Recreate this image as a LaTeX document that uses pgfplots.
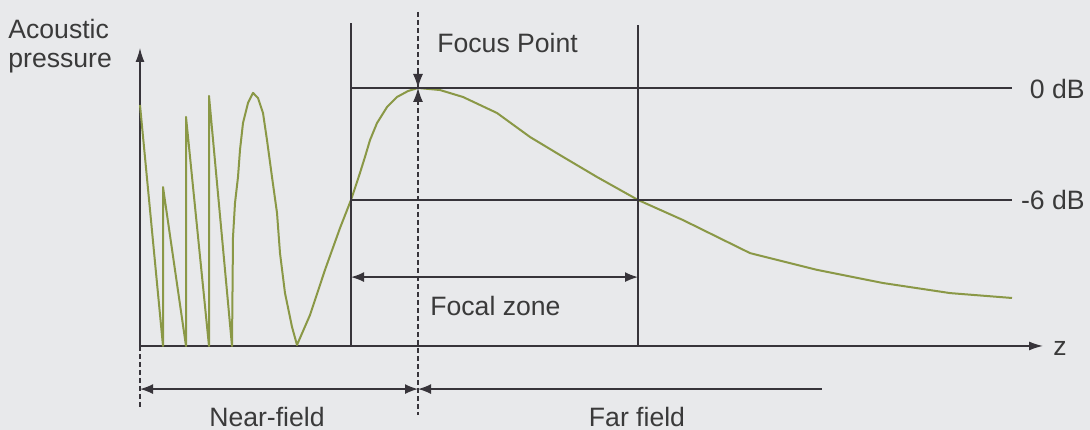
\documentclass[border=0pt]{standalone}
\usepackage{pgfplots}
\pgfplotsset{compat=1.18}
\usepackage{fontspec}
\setmainfont{Liberation Sans}
\usetikzlibrary{arrows.meta}

\definecolor{bgc}{HTML}{E8E9EB}
\definecolor{ink}{HTML}{37343A}
\definecolor{txt}{HTML}{3A3A3A}
\definecolor{wave}{HTML}{8A9846}

\tikzset{
  lab/.style={font=\fontsize{13.3}{15}\selectfont, text=txt, inner sep=0pt},
  guide/.style={ink, line width=0.75pt},
  dim/.style={ink, line width=0.75pt, {Latex[length=6.5pt,width=5pt]}-{Latex[length=6.5pt,width=5pt]}},
  dashv/.style={ink, line width=0.6pt, dash pattern=on 2.5pt off 1.5pt},
}

\begin{document}
\begin{tikzpicture}
\begin{axis}[
  set layers, clip=false, scale only axis,
  width=451.5pt, height=149pt,
  xmin=0, xmax=9.03, ymin=0, ymax=1.155,
  axis lines=left,
  axis line style={ink, line width=0.7pt, -{Latex[length=7pt,width=4.5pt]}},
  xtick=\empty, ytick=\empty,
]
\begin{pgfonlayer}{axis background}
  \fill[bgc] (axis cs:-1.40,1.341) rectangle (axis cs:9.50,-0.3256);
\end{pgfonlayer}

% on-axis pressure: near-field oscillations, focus, far-field decay
\addplot[wave, line width=1pt, line join=round] coordinates {
  (0.00,0.934) (0.23,0.000) (0.23,0.616) (0.46,0.000) (0.46,0.888)
  (0.69,0.000) (0.69,0.969) (0.92,0.000)
  (0.93,0.422) (0.95,0.554) (0.98,0.655) (1.00,0.760) (1.03,0.864)
  (1.08,0.942) (1.13,0.981) (1.18,0.961) (1.23,0.903) (1.27,0.798)
  (1.32,0.655) (1.37,0.516) (1.40,0.360) (1.45,0.205) (1.52,0.074)
  (1.57,0.004)
  (1.70,0.120) (1.85,0.295) (2.00,0.457) (2.11,0.566) (2.16,0.624)
  (2.20,0.671) (2.25,0.733) (2.30,0.798) (2.37,0.864) (2.47,0.926)
  (2.57,0.965) (2.68,0.988) (2.78,1.000)
  (3.00,0.992) (3.23,0.965) (3.57,0.903) (3.90,0.810) (4.23,0.733)
  (4.57,0.655) (4.98,0.566) (5.43,0.488) (6.10,0.360) (6.77,0.295)
  (7.43,0.244) (8.10,0.205) (8.72,0.186)
};

% 0 dB and -6 dB levels
\draw[guide] (axis cs:2.11,1.000) -- (axis cs:8.72,1.000);
\draw[guide] (axis cs:2.11,0.566) -- (axis cs:8.72,0.566);
% focal zone limits
\draw[guide] (axis cs:2.11,0) -- (axis cs:2.11,1.252);
\draw[guide] (axis cs:4.98,0) -- (axis cs:4.98,1.244);
% focus point and transducer face
\draw[dashv] (axis cs:2.78,1.295) -- (axis cs:2.78,-0.267);
\draw[dashv] (axis cs:0,0) -- (axis cs:0,-0.240);
\draw[ink, line width=0.6pt, -{Latex[length=7pt,width=5pt]}] (axis cs:2.78,1.065) -- (axis cs:2.78,1.000);
\draw[ink, line width=0.6pt, -{Latex[length=7pt,width=5pt]}] (axis cs:2.78,0.935) -- (axis cs:2.78,1.000);

% zone arrows
\draw[dim] (axis cs:2.11,0.267) -- (axis cs:4.98,0.267);
\draw[dim] (axis cs:0,-0.167) -- (axis cs:2.78,-0.167);
\draw[ink, line width=0.75pt, {Latex[length=6.5pt,width=5pt]}-] (axis cs:2.78,-0.167) -- (axis cs:6.82,-0.167);

% labels
\node[lab, anchor=base west] at (axis cs:-1.32,1.193) {Acoustic};
\node[lab, anchor=base west] at (axis cs:-1.32,1.078) {pressure};
\node[lab, anchor=base west] at (axis cs:2.97,1.136) {Focus Point};
\node[lab, anchor=base west] at (axis cs:2.90,0.120) {Focal zone};
\node[lab, anchor=base] at (axis cs:1.27,-0.314) {Near-field};
\node[lab, anchor=base] at (axis cs:4.97,-0.314) {Far field};
\node[lab, anchor=base east] at (axis cs:9.45,0.961) {0 dB};
\node[lab, anchor=base east] at (axis cs:9.45,0.529) {-6 dB};
\node[lab, anchor=base west] at (axis cs:9.13,-0.035) {z};
\end{axis}
\end{tikzpicture}
\end{document}
